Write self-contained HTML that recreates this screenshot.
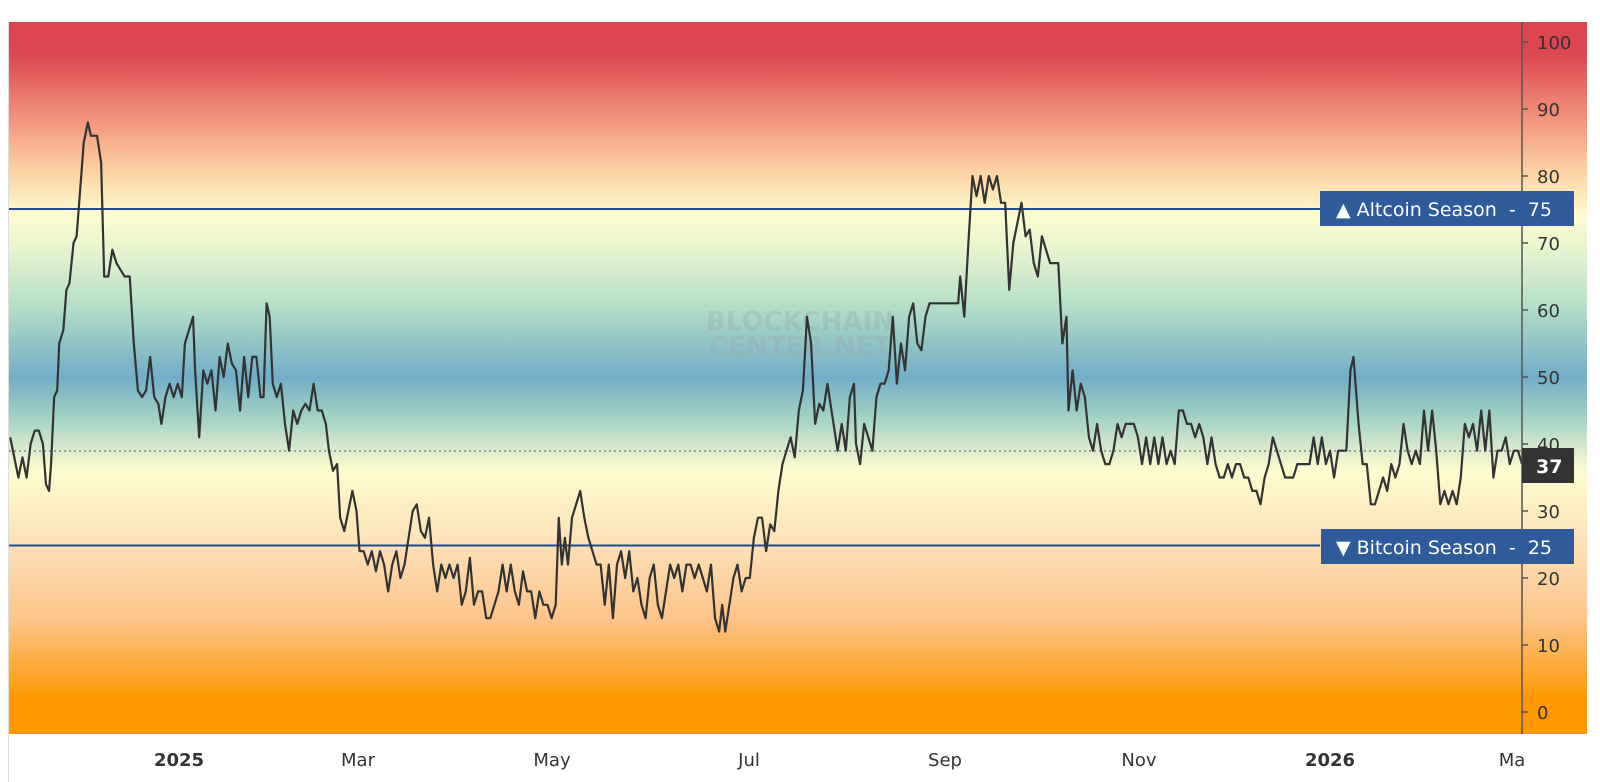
<!DOCTYPE html>
<html><head><meta charset="utf-8"><style>
html,body{margin:0;padding:0;background:#fff;}
svg{display:block;font-family:"DejaVu Sans","Liberation Sans",sans-serif;}
</style></head><body>
<svg width="1600" height="782" viewBox="0 0 1600 782" xmlns="http://www.w3.org/2000/svg">
<defs>
<linearGradient id="bg" x1="0" y1="0" x2="0" y2="1">
<stop offset="0" stop-color="#dc4450"/>
<stop offset="0.045" stop-color="#dc4652"/>
<stop offset="0.11" stop-color="#ec7e70"/>
<stop offset="0.166" stop-color="#f6ad8a"/>
<stop offset="0.215" stop-color="#fdd6a6"/>
<stop offset="0.271" stop-color="#fefbd0"/>
<stop offset="0.32" stop-color="#e6f4cf"/>
<stop offset="0.39" stop-color="#bce2c6"/>
<stop offset="0.499" stop-color="#72aec6"/>
<stop offset="0.559" stop-color="#a6d3c5"/>
<stop offset="0.629" stop-color="#fdfcd0"/>
<stop offset="0.735" stop-color="#fde0b8"/>
<stop offset="0.84" stop-color="#fcc488"/>
<stop offset="0.952" stop-color="#fe9800"/>
<stop offset="1" stop-color="#fe9800"/>
</linearGradient>
</defs>
<rect x="9" y="22" width="1578" height="712" fill="url(#bg)"/>
<line x1="8.5" y1="22" x2="8.5" y2="782" stroke="#ddd"/>
<text x="800" y="330" font-size="26" fill="#9aa" fill-opacity="0.35" text-anchor="middle" font-weight="bold">BLOCKCHAIN</text>
<text x="800" y="355" font-size="26" fill="#9aa" fill-opacity="0.35" text-anchor="middle" font-weight="bold">CENTER.NET</text>
<line x1="9" y1="451" x2="1522" y2="451" stroke="#555" stroke-dasharray="2,3" stroke-width="1"/>
<line x1="9" y1="209" x2="1320" y2="209" stroke="#1f4e8c" stroke-width="2"/>
<line x1="9" y1="545.5" x2="1320" y2="545.5" stroke="#1f4e8c" stroke-width="2"/>
<g transform="matrix(1.0215 0 0 -6.7 0 712)">
<polyline fill="none" stroke="#333" stroke-width="2.2" vector-effect="non-scaling-stroke" stroke-linejoin="round" points="10,41 14,38 18,35 22,38 26,35 30,40 34,42 38,42 42,40 45,34 48,33 50,37 53,47 56,48 58,55 62,57 65,63 68,64 72,70 75,71 78,77 82,85 86,88 89,86 95,86 99,82 102,65 106,65 110,69 114,67 118,66 122,65 127,65 131,55 135,48 139,47 143,48 147,53 151,47 155,46 158,43 162,47 166,49 170,47 174,49 178,47 181,55 185,57 189,59 191,51 195,41 199,51 203,49 207,51 211,45 215,53 219,50 223,55 227,52 231,51 235,45 239,53 243,47 247,53 251,53 255,47 258,47 261,61 264,59 267,49 271,47 275,49 279,43 283,39 287,45 291,43 295,45 299,46 303,45 307,49 311,45 315,45 319,43 322,39 326,36 330,37 333,29 337,27 341,30 345,33 349,30 352,24 356,24 360,22 364,24 368,21 372,24 376,22 380,18 384,22 388,24 392,20 396,22 400,26 404,30 408,31 412,27 416,26 420,29 424,22 428,18 432,22 436,20 440,22 444,20 448,22 452,16 456,18 460,23 464,16 468,18 472,18 476,14 480,14 484,16 488,18 492,22 496,18 500,22 504,18 508,16 512,21 516,18 520,18 524,14 528,18 532,16 536,16 540,14 544,16 547,29 550,22 553,26 556,22 560,29 564,31 568,33 572,29 576,26 580,24 584,22 588,22 592,16 596,22 600,14 604,22 608,24 612,20 616,24 620,18 624,20 628,16 632,14 636,20 640,22 644,16 648,14 652,18 656,22 660,20 664,22 668,18 672,22 676,22 680,20 684,22 688,20 692,18 696,22 700,14 704,12 707,16 710,12 714,16 718,20 722,22 726,18 730,20 734,20 738,26 742,29 746,29 750,24 754,28 758,27 762,33 766,37 770,39 774,41 778,38 782,45 786,48 790,59 794,55 798,43 802,46 806,45 810,49 814,45 818,41 820,39 824,43 828,39 832,47 836,49 838,40 842,37 846,43 850,41 854,39 858,47 862,49 866,49 870,51 874,59 878,49 882,55 886,51 890,59 894,61 898,55 902,54 906,59 910,61 920,61 930,61 938,61 940,65 944,59 948,70 952,80 956,77 960,80 964,76 968,80 972,78 976,80 980,76 984,76 988,63 992,70 996,73 1000,76 1004,71 1008,72 1012,67 1016,65 1020,71 1024,69 1028,67 1032,67 1036,67 1040,55 1044,59 1046,45 1050,51 1054,45 1058,49 1062,47 1066,41 1070,39 1074,43 1078,39 1082,37 1086,37 1090,39 1094,43 1098,41 1102,43 1106,43 1110,43 1114,41 1118,37 1122,41 1126,37 1130,41 1134,37 1138,41 1142,37 1146,39 1150,37 1154,45 1158,45 1162,43 1166,43 1170,41 1174,43 1178,41 1182,37 1186,41 1190,37 1194,35 1198,35 1202,37 1206,35 1210,37 1214,37 1218,35 1222,35 1226,33 1230,33 1234,31 1238,35 1242,37 1246,41 1250,39 1254,37 1258,35 1262,35 1266,35 1270,37 1274,37 1278,37 1282,37 1286,41 1290,37 1294,41 1298,37 1302,39 1306,35 1310,39 1314,39 1318,39 1322,51 1325,53 1330,43 1334,37 1338,37 1342,31 1346,31 1350,33 1354,35 1358,33 1362,37 1366,35 1370,37 1374,43 1378,39 1382,37 1386,39 1390,37 1394,45 1398,39 1402,45 1406,39 1410,31 1414,33 1418,31 1422,33 1426,31 1430,35 1434,43 1438,41 1442,43 1446,39 1450,45 1454,39 1458,45 1462,35 1466,39 1470,39 1474,41 1478,37 1482,39 1486,39 1490,37"/>
</g>
<line x1="1522" y1="22" x2="1522" y2="734" stroke="#555" stroke-width="1.5"/>
<g stroke="#555" stroke-width="1.5">
<line x1="1522" y1="42" x2="1528" y2="42"/><line x1="1522" y1="109" x2="1528" y2="109"/><line x1="1522" y1="176" x2="1528" y2="176"/><line x1="1522" y1="243" x2="1528" y2="243"/><line x1="1522" y1="310" x2="1528" y2="310"/><line x1="1522" y1="377" x2="1528" y2="377"/><line x1="1522" y1="444" x2="1528" y2="444"/><line x1="1522" y1="511" x2="1528" y2="511"/><line x1="1522" y1="578" x2="1528" y2="578"/><line x1="1522" y1="645" x2="1528" y2="645"/><line x1="1522" y1="712" x2="1528" y2="712"/>
</g>
<g font-size="18" fill="#333">
<text x="1537" y="49">100</text><text x="1537" y="116">90</text><text x="1537" y="183">80</text><text x="1537" y="250">70</text><text x="1537" y="317">60</text><text x="1537" y="384">50</text><text x="1537" y="451">40</text><text x="1537" y="518">30</text><text x="1537" y="585">20</text><text x="1537" y="652">10</text><text x="1537" y="719">0</text>
</g>
<rect x="1320" y="191" width="254" height="35" fill="#2f5b9a"/>
<text x="1336" y="216" font-size="19" fill="#fff" xml:space="preserve">▲ Altcoin Season  -  75</text>
<rect x="1321" y="529" width="253" height="35" fill="#2f5b9a"/>
<text x="1336" y="554" font-size="19" fill="#fff" xml:space="preserve">▼ Bitcoin Season  -  25</text>
<rect x="1522" y="448" width="52" height="35" fill="#333"/>
<text x="1536" y="473" font-size="19" fill="#fff" font-weight="bold">37</text>
<g font-size="18" fill="#333" text-anchor="middle">
<text x="179" y="766" font-weight="bold">2025</text>
<text x="358" y="766">Mar</text>
<text x="552" y="766">May</text>
<text x="749" y="766">Jul</text>
<text x="945" y="766">Sep</text>
<text x="1139" y="766">Nov</text>
<text x="1330" y="766" font-weight="bold">2026</text>
<text x="1512" y="766">Ma</text>
</g>
</svg>
</body></html>
